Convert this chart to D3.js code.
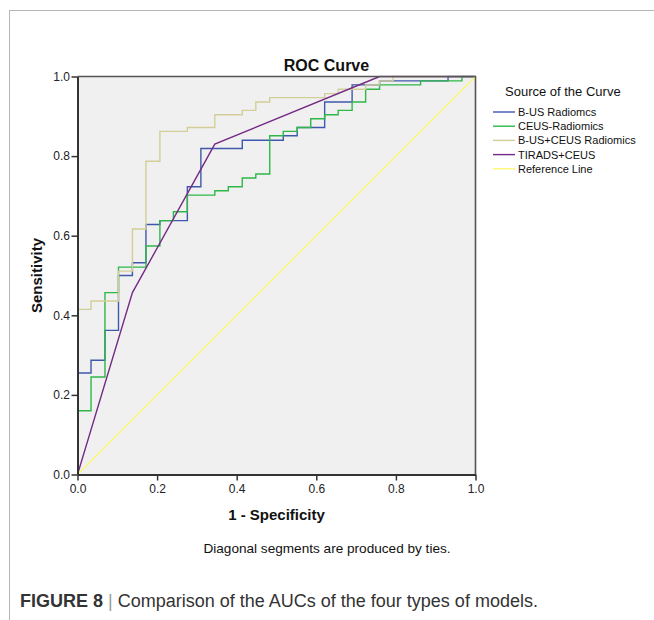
<!DOCTYPE html>
<html>
<head>
<meta charset="utf-8">
<script src="https://cdn.jsdelivr.net/npm/d3@7"></script>
<style>
  html, body { margin: 0; padding: 0; background: #fff; }
  svg { display: block; font-family: "Liberation Sans", Arial, sans-serif; }
</style>
</head>
<body>
<svg id="chart" width="654" height="620"></svg>
<script>
// ---- Data ----
const seriesNames = ["B-US Radiomcs", "CEUS-Radiomics", "B-US+CEUS Radiomics", "TIRADS+CEUS", "Reference Line"];
const seriesColors = ["#3E58AC", "#2EB848", "#D3CE97", "#752A86", "#FBF873"];

// Each curve: list of [1 - specificity, sensitivity]
const busRadiomics = [
  [0,0],[0,0.255],[0.034,0.255],[0.034,0.287],[0.069,0.287],[0.069,0.362],[0.103,0.362],[0.103,0.500],
  [0.138,0.500],[0.138,0.532],[0.172,0.532],[0.172,0.628],[0.207,0.628],[0.207,0.638],[0.276,0.638],
  [0.276,0.723],[0.310,0.723],[0.310,0.819],[0.414,0.819],[0.414,0.840],[0.517,0.840],[0.517,0.851],
  [0.552,0.851],[0.552,0.872],[0.621,0.872],[0.621,0.936],[0.690,0.936],[0.690,0.979],[0.759,0.979],
  [0.759,0.989],[0.931,0.989],[0.931,1],[1,1]
];
const ceusRadiomics = [
  [0,0],[0,0.160],[0.034,0.160],[0.034,0.245],[0.069,0.245],[0.069,0.457],[0.103,0.457],[0.103,0.521],
  [0.172,0.521],[0.172,0.574],[0.207,0.574],[0.207,0.638],[0.241,0.638],[0.241,0.660],[0.276,0.660],
  [0.276,0.702],[0.345,0.702],[0.345,0.713],[0.379,0.713],[0.379,0.723],[0.414,0.723],[0.414,0.745],
  [0.448,0.745],[0.448,0.755],[0.483,0.755],[0.483,0.851],[0.517,0.851],[0.517,0.862],[0.552,0.862],
  [0.552,0.872],[0.586,0.872],[0.586,0.894],[0.621,0.894],[0.621,0.904],[0.655,0.904],[0.655,0.915],
  [0.690,0.915],[0.690,0.936],[0.724,0.936],[0.724,0.968],[0.759,0.968],[0.759,0.979],[0.862,0.979],
  [0.862,0.989],[0.966,0.989],[0.966,1],[1,1]
];
const combinedRadiomics = [
  [0,0],[0,0.415],[0.034,0.415],[0.034,0.436],[0.103,0.436],[0.103,0.511],[0.138,0.511],[0.138,0.617],
  [0.172,0.617],[0.172,0.787],[0.207,0.787],[0.207,0.862],[0.276,0.862],[0.276,0.872],[0.345,0.872],
  [0.345,0.904],[0.414,0.904],[0.414,0.915],[0.448,0.915],[0.448,0.936],[0.483,0.936],[0.483,0.947],
  [0.621,0.947],[0.621,0.957],[0.655,0.957],[0.655,0.968],[0.724,0.968],[0.724,0.979],[0.759,0.979],
  [0.759,0.989],[0.793,0.989],[0.793,1],[1,1]
];
const tiradsCeus = [[0,0],[0.138,0.457],[0.345,0.830],[0.759,1],[1,1]];
const referenceLine = [[0,0],[1,1]];

const tickValues = [0, 0.2, 0.4, 0.6, 0.8, 1.0];
const titleText = "ROC Curve";
const xLabel = "1 - Specificity";
const yLabel = "Sensitivity";
const legendTitle = "Source of the Curve";
const footnote = "Diagonal segments are produced by ties.";
const captionBold = "FIGURE 8";
const captionText = "Comparison of the AUCs of the four types of models.";

const curves = [busRadiomics, ceusRadiomics, combinedRadiomics, tiradsCeus, referenceLine];

// ---- Layout ----
const svg = d3.select("#chart");
const plot = { left: 77.5, right: 475.5, top: 76.5, bottom: 474.5 };

const x = d3.scaleLinear().domain([0, 1]).range([plot.left, plot.right]);
const y = d3.scaleLinear().domain([0, 1]).range([plot.bottom, plot.top]);

// outer frame lines
svg.append("line").attr("x1", 9).attr("x2", 654).attr("y1", 10.5).attr("y2", 10.5)
  .attr("stroke", "#b5b5b5").attr("stroke-width", 1);
svg.append("line").attr("x1", 9.5).attr("x2", 9.5).attr("y1", 10).attr("y2", 620)
  .attr("stroke", "#b5b5b5").attr("stroke-width", 1);

// plot background
svg.append("rect")
  .attr("x", plot.left).attr("y", plot.top)
  .attr("width", plot.right - plot.left).attr("height", plot.bottom - plot.top)
  .attr("fill", "#F0F0F0");

// curves
const line = d3.line().x(d => x(d[0])).y(d => y(d[1]));
svg.append("clipPath").attr("id", "clip").append("rect")
  .attr("x", plot.left).attr("y", plot.top - 1)
  .attr("width", plot.right - plot.left).attr("height", plot.bottom - plot.top + 1);

svg.append("g").attr("clip-path", "url(#clip)")
  .selectAll("path").data(curves).join("path")
  .attr("d", line)
  .attr("fill", "none")
  .attr("stroke", (d, i) => seriesColors[i])
  .attr("stroke-width", 1.4)
  .attr("stroke-linejoin", "miter");

// top & right frame
svg.append("path")
  .attr("d", `M${plot.left},${plot.top}H${plot.right}V${plot.bottom}`)
  .attr("fill", "none").attr("stroke", "#555").attr("stroke-width", 1.6);

// axes
const fmt = d3.format(".1f");
const xAxis = d3.axisBottom(x).tickValues(tickValues).tickFormat(fmt).tickSizeInner(6).tickSizeOuter(0).tickPadding(4);
const yAxis = d3.axisLeft(y).tickValues(tickValues).tickFormat(fmt).tickSizeInner(6).tickSizeOuter(0).tickPadding(1.5);

const gx = svg.append("g").attr("transform", `translate(0,${plot.bottom})`).call(xAxis);
const gy = svg.append("g").attr("transform", `translate(${plot.left},0)`).call(yAxis);
[gx, gy].forEach(g => {
  g.select(".domain").attr("stroke", "#333").attr("stroke-width", 2);
  g.selectAll(".tick line").attr("stroke", "#333").attr("stroke-width", 1.5);
  g.selectAll(".tick text").attr("fill", "#222").attr("font-size", 12)
    .attr("font-family", "'Liberation Sans', Arial, sans-serif");
});

// title and labels
svg.append("text").attr("x", 326.5).attr("y", 71).attr("text-anchor", "middle")
  .attr("font-size", 16).attr("font-weight", "bold").attr("fill", "#111").text(titleText);
svg.append("text").attr("x", (plot.left + plot.right) / 2).attr("y", 520).attr("text-anchor", "middle")
  .attr("font-size", 15).attr("font-weight", "bold").attr("fill", "#111").text(xLabel);
svg.append("text").attr("transform", `translate(42,${(plot.top + plot.bottom) / 2}) rotate(-90)`)
  .attr("text-anchor", "middle")
  .attr("font-size", 15).attr("font-weight", "bold").attr("fill", "#111").text(yLabel);
svg.append("text").attr("x", 327).attr("y", 553).attr("text-anchor", "middle")
  .attr("font-size", 13.6).attr("fill", "#111").text(footnote);

// legend
const lg = svg.append("g");
lg.append("text").attr("x", 505).attr("y", 96).attr("font-size", 13).attr("fill", "#111").text(legendTitle);
const items = lg.selectAll("g.item").data(seriesNames).join("g").attr("class", "item")
  .attr("transform", (d, i) => `translate(0,${112 + i * 14.2})`);
items.append("line").attr("x1", 493).attr("x2", 515).attr("y1", 0).attr("y2", 0)
  .attr("stroke", (d, i) => seriesColors[i]).attr("stroke-width", 1.4);
items.append("text").attr("x", 518).attr("y", 4).attr("font-size", 11).attr("fill", "#111").text(d => d);

// caption
const cap = svg.append("text").attr("x", 20).attr("y", 607).attr("font-size", 18)
  .attr("font-family", "'Liberation Sans', Arial, sans-serif").attr("fill", "#333");
cap.append("tspan").attr("font-weight", "bold").text(captionBold);
cap.append("tspan").attr("fill", "#999").attr("font-weight", "300").text(" | ");
cap.append("tspan").text(captionText);
</script>
</body>
</html>
